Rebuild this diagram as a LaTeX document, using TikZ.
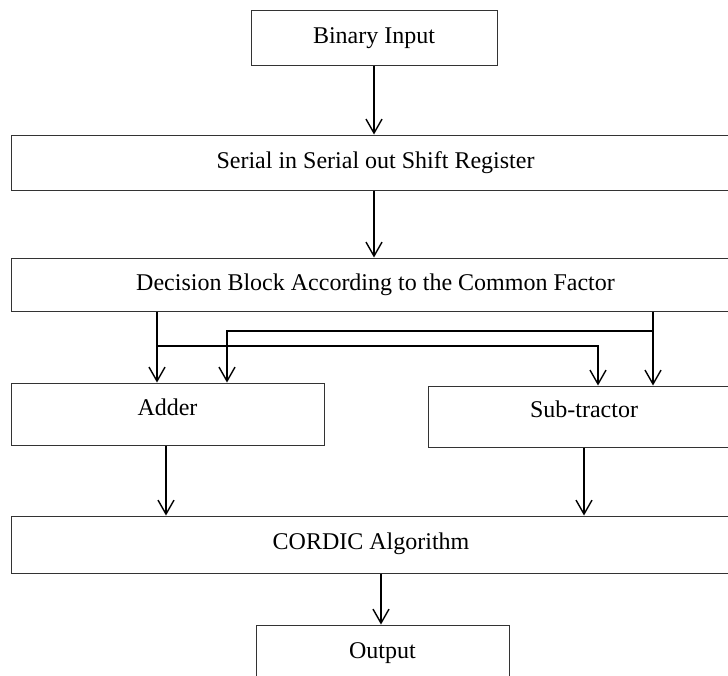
\documentclass[tikz,border=0pt]{standalone}
\usepackage{fontspec}
\setmainfont{Liberation Serif}
\usetikzlibrary{arrows.meta}
\begin{document}
\begin{tikzpicture}[x=1pt,y=-1pt,
  box/.style={draw=black!80, line width=1pt, rectangle, inner sep=0pt,
    font=\fontsize{24}{28}\selectfont, text height=17pt, text depth=5pt},
  arr/.style={line width=1.4pt, -{Straight Barb[length=14pt,width=16pt,line width=1.4pt]}},
  link/.style={line width=1.4pt}]
\useasboundingbox (0,0) rectangle (728,675);
\clip (0,0) rectangle (728,675);
\node[box, minimum width=246pt, minimum height=55pt] (bin) at (374,37.5) {Binary Input};
\node[box, minimum width=729pt, minimum height=55pt] (serial) at (375.5,162.5) {Serial in Serial out Shift Register};
\node[box, minimum width=729pt, minimum height=53pt] (dec) at (375.5,284.5) {Decision Block According to the Common Factor};
\node[box, minimum width=313pt, minimum height=62pt, text depth=15pt] (adder) at (167.5,414) {Adder};
\node[box, minimum width=312pt, minimum height=61pt, text depth=15pt] (sub) at (584,416.5) {Sub-tractor};
\node[box, minimum width=720pt, minimum height=57pt, text depth=8pt] (cordic) at (371,544.5) {CORDIC Algorithm};
\node[box, minimum width=253pt, minimum height=54pt] (out) at (382.5,652) {Output};
\coordinate (xa) at (157,0);
\coordinate (xb) at (227,0);
\coordinate (xc) at (598,0);
\coordinate (xd) at (653,0);
\coordinate (xe) at (166,0);
\coordinate (xg) at (381,0);
\coordinate (ya) at (0,331);
\coordinate (yb) at (0,346);
\draw[arr] (bin.south) -- (bin.south |- serial.north);
\draw[arr] (serial.south -| bin.south) -- (dec.north -| bin.south);
\draw[arr] (dec.south -| xa) -- (adder.north -| xa);
\draw[arr] (dec.south -| xd) -- (sub.north -| xd);
\draw[arr] (ya -| xd) -- (ya -| xb) -- (adder.north -| xb);
\draw[arr] (yb -| xa) -- (yb -| xc) -- (sub.north -| xc);
\draw[arr] (adder.south -| xe) -- (cordic.north -| xe);
\draw[arr] (sub.south) -- (sub.south |- cordic.north);
\draw[arr] (cordic.south -| xg) -- (out.north -| xg);
\end{tikzpicture}
\end{document}
